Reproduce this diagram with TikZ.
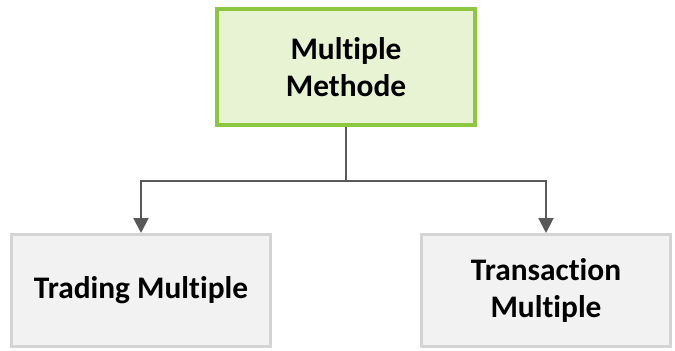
\documentclass[tikz,border=0pt]{standalone}
\usepackage{fontspec}
\setmainfont[Ligatures=NoCommon]{Carlito}
\usepackage{tikz}
\usetikzlibrary{shapes,arrows.meta,positioning}
\definecolor{topgreen}{HTML}{8DC63F}
\definecolor{topfill}{HTML}{E8F3D3}
\definecolor{subgray}{HTML}{D4D4D4}
\definecolor{subfill}{HTML}{F2F2F2}
\definecolor{linegray}{HTML}{595959}
\tikzstyle{topblock} = [rectangle,draw=topgreen,line width=3.5bp,fill=topfill,
  minimum width=258bp,minimum height=116bp,align=center,
  font=\fontsize{31.5}{37}\selectfont\bfseries]
\tikzstyle{subblock} = [rectangle,draw=subgray,line width=3bp,fill=subfill,
  minimum height=112bp,align=center,
  font=\fontsize{31.5}{37}\selectfont\bfseries]
\tikzstyle{line} = [draw=linegray, line width=2bp, -{Triangle[width=15bp,length=15bp]}]
\tikzstyle{trunk} = [draw=linegray, line width=2bp]

\begin{document}
\begin{tikzpicture}[x=1bp, y=-1bp, node distance = 205bp, on grid]
\useasboundingbox (0,0) rectangle (675,350);

\node [topblock] (methods) at (346,67) {Multiple\\Methode};

\node [subblock, minimum width=258bp, below left=223.5bp and 205bp of methods] (trading) {Trading Multiple};
\node [subblock, minimum width=249bp, below right=223.5bp and 200bp of methods] (transaction) {Transaction\\Multiple};

\path [trunk] (methods.south) -- ++(0,54) coordinate (split);
\path [line] (split) -| (trading.north);
\path [line] (split) -| (transaction.north);

\end{tikzpicture}
\end{document}
